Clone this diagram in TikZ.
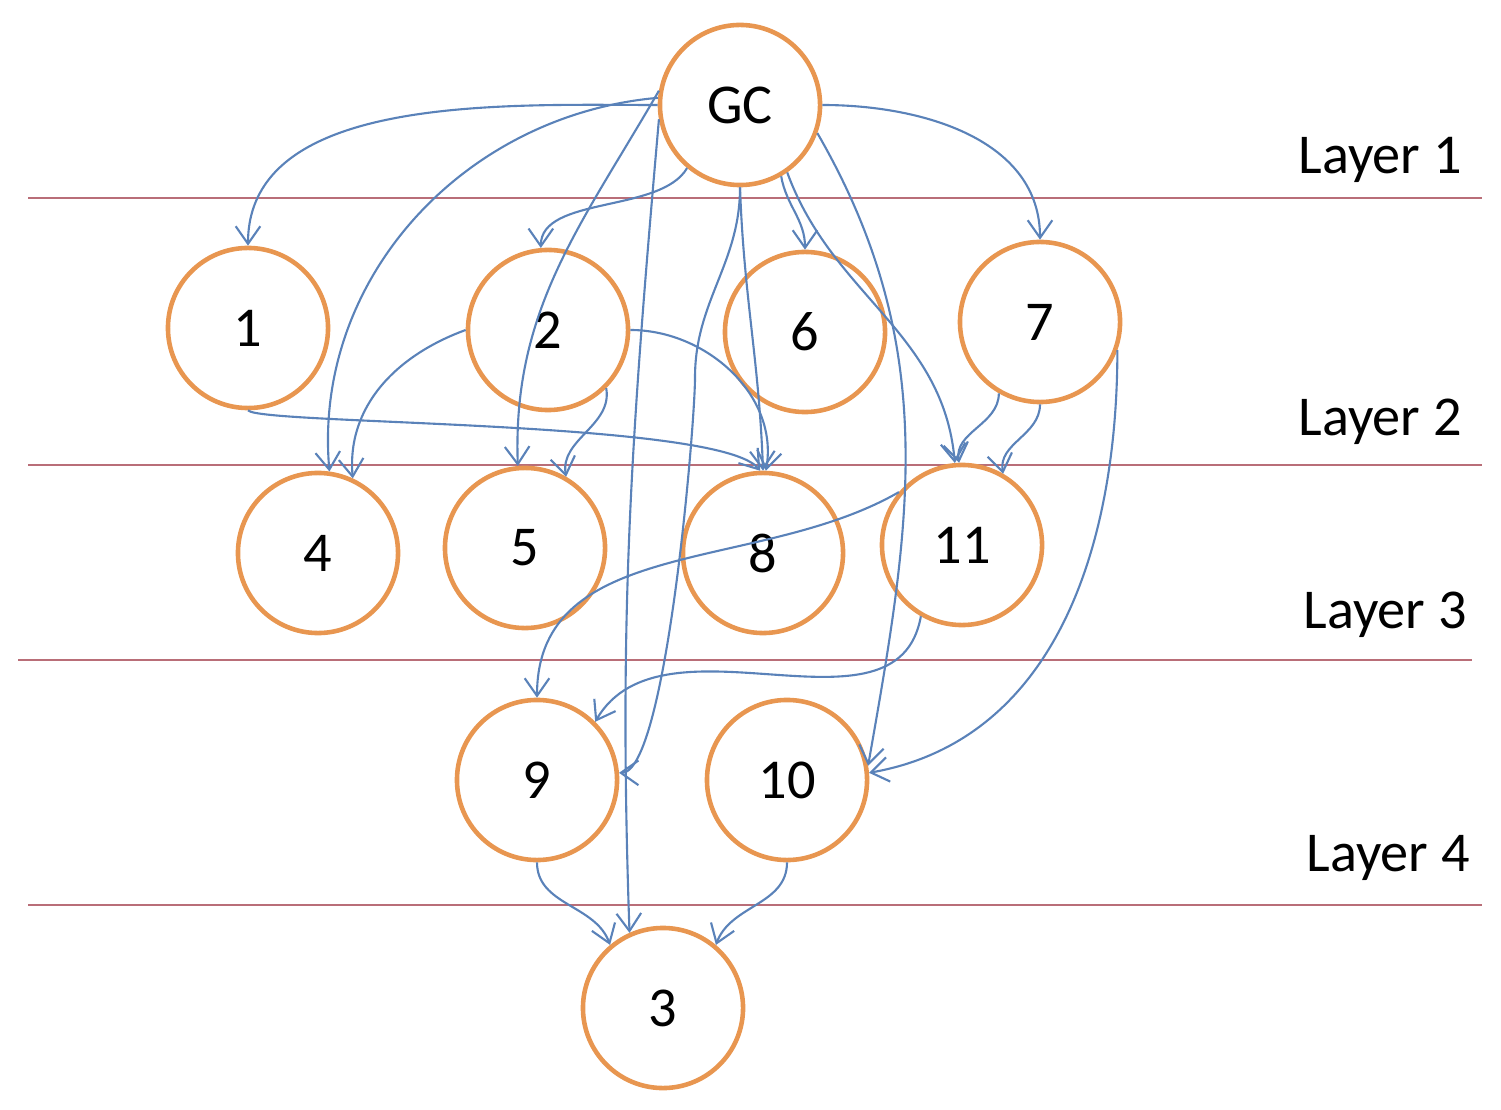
\documentclass[tikz,border=0pt]{standalone}
\usepackage{fontspec}
\setmainfont{Carlito}
\usetikzlibrary{arrows.meta}
\definecolor{ora}{RGB}{232,150,80}
\definecolor{edc}{RGB}{90,130,185}
\definecolor{lyc}{RGB}{185,110,120}
\begin{document}
\begin{tikzpicture}[x=0.01cm,y=-0.01cm,
  nd/.style={circle,draw=ora,line width=1.3pt,minimum size=1.6cm,inner sep=0pt,font=\fontsize{16}{16}\selectfont},
  ed/.style={draw=edc,line width=0.6pt,-{Straight Barb[length=5pt,width=7pt]}},
  ly/.style={draw=lyc,line width=0.6pt},
  lab/.style={font=\fontsize{16}{16}\selectfont}]
\useasboundingbox (0,0) rectangle (1501,1110);
\draw[ly] (28,198) -- (1482,198);
\draw[ly] (28,465) -- (1482,465);
\draw[ly] (18,660) -- (1472,660);
\draw[ly] (28,905) -- (1482,905);
\node[lab] (l1) at (1380,160) {Layer 1};
\node[lab] (l2) at (1380,422) {Layer 2};
\node[lab] (l3) at (1385,615) {Layer 3};
\node[lab] (l4) at (1388,858) {Layer 4};
\node[nd] (GC) at (740,105) {GC};
\node[nd] (n1) at (248,328) {1};
\node[nd] (n2) at (548,330) {2};
\node[nd] (n6) at (805,332) {6};
\node[nd] (n7) at (1040,322) {7};
\node[nd] (n4) at (318,553) {4};
\node[nd] (n5) at (525,548) {5};
\node[nd] (n8) at (763,553) {8};
\node[nd] (n11) at (962,545) {11};
\node[nd] (n9) at (537,780) {9};
\node[nd] (n10) at (787,780) {10};
\node[nd] (n3) at (663,1008) {3};
\draw[ed] (GC.180) to[out=180,in=90,looseness=0.9] (n1.90);
\draw[ed] (GC.175) to[out=185,in=95] (n4.82);
\draw[ed] (GC.-130) to[out=-120,in=90,looseness=0.8] (n2.95);
\draw[ed] (GC.170) to[out=-120,in=92] (n5.95);
\draw[ed] (GC.-170) to[out=-95,in=92] (n3.114);
\draw[ed] (GC.-90) to[out=-90,in=90] ++(-45,190) to[out=-90,in=0,looseness=0.3] (n9.5);
\draw[ed] (GC.-90) to[out=-88,in=92] (n8.90);
\draw[ed] (GC.-60) to[out=-80,in=90] (n6.90);
\draw[ed] (GC.-55) to[out=-70,in=95] (n11.95);
\draw[ed] (GC.-20) to[out=-60,in=80] (n10.10);
\draw[ed] (GC.0) to[out=0,in=90] (n7.90);
\draw[ed] (n1.-90) .. controls (260,425) and (720,420) .. (n8.92);
\draw[ed] (n2.180) to[out=200,in=95] (n4.65);
\draw[ed] (n2.-45) to[out=-80,in=100] (n5.60);
\draw[ed] (n2.0) to[out=0,in=80] (n8.88);
\draw[ed] (n7.-120) to[out=-90,in=100] (n11.92);
\draw[ed] (n7.-90) to[out=-90,in=100] (n11.60);
\draw[ed] (n7.-20) to[out=-90,in=10] (n10.5);
\draw[ed] (n11.140) to[out=210,in=90] (n9.90);
\draw[ed] (n11.-120) to[out=-100,in=60] (n9.45);
\draw[ed] (n9.-90) to[out=-90,in=110] (n3.130);
\draw[ed] (n10.-90) to[out=-90,in=70] (n3.50);
\end{tikzpicture}
\end{document}
